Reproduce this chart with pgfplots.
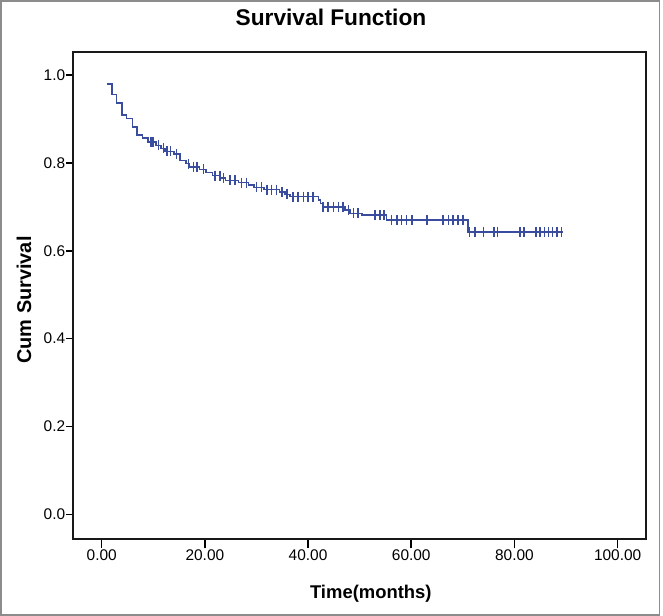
\documentclass[border=0pt]{standalone}
\usepackage{fontspec}
\setmainfont{Liberation Sans}
\usepackage{pgfplots}
\pgfplotsset{compat=1.18}
\definecolor{kmblue}{RGB}{58,76,158}
\begin{document}
\begin{tikzpicture}
\useasboundingbox (0,0) rectangle (663bp,616bp);
\fill[white] (0,0) rectangle (663bp,616bp);
\draw[line width=1.5bp, color=black!45] (1bp,1bp) rectangle (659.5bp,615bp);
\begin{axis}[
  at={(72.7bp,77.3bp)}, anchor=south west,
  scale only axis, width=573.3bp, height=487bp,
  xmin=-5.62, xmax=105.5, ymin=-0.0555, ymax=1.053,
  axis line style={line width=1.7bp, black!90},
  xtick={0,20,40,60,80,100}, ytick={0,0.2,0.4,0.6,0.8,1.0},
  xtick pos=bottom, ytick pos=left,
  tick align=outside,
  major tick length=6.5bp,
  xtick style={line width=1.6bp, black, /pgfplots/major tick length=9.7bp},
  ytick style={line width=1.6bp, black},
  /pgf/number format/assume math mode=true,
  xticklabel style={font=\fontsize{15.5}{18}\selectfont, /pgf/number format/fixed, /pgf/number format/fixed zerofill, /pgf/number format/precision=2, yshift=-1bp},
  yticklabel style={font=\fontsize{15.5}{18}\selectfont, /pgf/number format/fixed, /pgf/number format/fixed zerofill, /pgf/number format/precision=1, xshift=2.5bp},
  scaled ticks=false,
  title={Survival Function},
  title style={at={(axis description cs:0.4505,1.059)}, anchor=center, font=\fontsize{22.8}{26}\selectfont\bfseries},
  xlabel={Time(months)},
  xlabel style={at={(axis description cs:0.520,-0.1136)}, anchor=center, font=\fontsize{18.5}{22}\selectfont\bfseries},
  ylabel={Cum Survival},
  ylabel style={at={(axis description cs:-0.085,0.49)}, anchor=center, font=\fontsize{20}{24}\selectfont\bfseries},
  clip=false,
]
\addplot[kmblue, line width=1.5bp, const plot, mark=none] coordinates {
(1.0,0.979) (2.0,0.956) (2.9,0.936) (3.9,0.909) (4.8,0.901) (6.0,0.882)
(6.8,0.863) (7.9,0.856) (9.0,0.848) (10.5,0.840) (11.5,0.833) (12.3,0.826)
(14.0,0.820) (15.2,0.805) (16.3,0.798) (17.0,0.791) (19.0,0.785) (20.2,0.778)
(21.5,0.771) (23.0,0.765) (24.0,0.760) (26.5,0.755) (28.5,0.750) (29.5,0.744)
(31.5,0.739) (34.5,0.734) (35.5,0.728) (36.5,0.723) (42.0,0.715) (42.4,0.708)
(42.8,0.700) (47.2,0.693) (48.1,0.685) (50.5,0.681) (55.2,0.670) (71.0,0.643)
(89.5,0.643)
};
\addplot[kmblue, only marks, mark=|, mark size=5bp, mark options={line width=1.6bp, draw=kmblue}] coordinates {
(9.5,0.848) (10.0,0.848) (11.0,0.840) (12.0,0.833) (12.6,0.826) (13.3,0.826)
(14.5,0.820) (16.8,0.798) (17.8,0.791) (18.5,0.791) (19.7,0.785) (22.0,0.771)
(22.9,0.771) (23.6,0.765) (24.9,0.760) (25.8,0.760) (27.1,0.755) (28.1,0.755)
(30.0,0.744) (31.0,0.744) (32.0,0.739) (32.9,0.739) (33.9,0.739) (34.9,0.734)
(35.9,0.728) (37.1,0.723) (38.1,0.723) (39.1,0.723) (40.0,0.723) (41.0,0.723)
(42.9,0.700) (43.9,0.700) (44.9,0.700) (45.9,0.700) (46.8,0.700) (47.8,0.693)
(48.8,0.685) (49.7,0.685) (53.0,0.681) (53.9,0.681) (54.7,0.681) (56.2,0.670)
(57.2,0.670) (58.1,0.670) (59.1,0.670) (60.1,0.670) (63.0,0.670) (66.2,0.670)
(67.2,0.670) (68.1,0.670) (69.1,0.670) (70.0,0.670) (71.3,0.643) (72.3,0.643)
(74.0,0.643) (76.0,0.643) (76.7,0.643) (81.1,0.643) (81.9,0.643) (84.2,0.643)
(85.0,0.643) (85.8,0.643) (86.6,0.643) (87.4,0.643) (88.2,0.643) (89.1,0.643)
};
\end{axis}
\end{tikzpicture}
\end{document}
